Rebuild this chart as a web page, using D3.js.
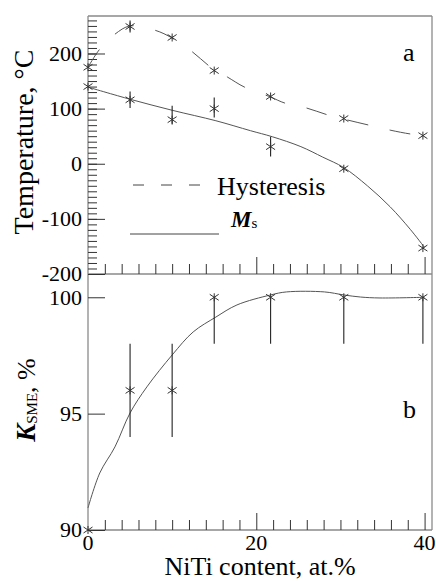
<!DOCTYPE html>
<html>
<head>
<meta charset="utf-8">
<script src="https://cdn.jsdelivr.net/npm/d3@7"></script>
</head>
<body style="margin:0">
<svg id="chart" width="436" height="581"></svg>
<script>
const SERIF = "'Liberation Serif'";

// NiTi content (at.%) of the measured samples
const content = [0, 5, 10, 15, 21.7, 30.4, 39.8];

// Panel a: temperatures, °C
const hysteresis = [175, 249, 229, 169, 122, 82, 51];
const hystLow = [null, 238, null, null, null, null, null];
const hystHigh = [null, 260, null, null, null, null, null];
const msTemp = [140, 116, 80, 100, 31, -9, -153];
const msLow = [null, 101, 71, 84, 13, null, null];
const msHigh = [null, 131, 105, 120, 49, null, null];

// Smoothed trend lines of panel a
const hystFitX = [0, 1.4, 3.2, 5, 8, 10, 12.4, 14.6, 16.6, 18.6, 21.7, 23.4, 26, 28.4, 30.4, 33.4, 35.9, 38.3, 40];
const hystFitY = [175, 208, 235, 250, 242, 228, 203, 175, 157, 139, 121, 110, 101, 89, 81, 70, 61, 54, 51];
const msFitX = [0, 5, 10, 15.2, 19.3, 21.9, 25.3, 27.9, 30.4, 33.2, 35.9, 38.3, 40];
const msFitY = [139, 117, 97, 78, 60, 49, 31, 12, -7, -40, -78, -119, -152];

// Panel b: shape memory effect coefficient, %
const kSme = [90, 96, 96, 100, 100, 100, 100];
const kLow = [null, 94, 94, 98, 98, 98, 98];
const kHigh = [null, 98, 98, 100, 100, 100, 100];
const kFitX = [0, 1.4, 3.2, 5, 7, 10, 12.5, 15.2, 17.7, 21.7, 23.6, 28.1, 30.4, 32.4, 34.7, 40];
const kFitY = [90.95, 92.45, 93.57, 95.03, 96.15, 97.52, 98.51, 99.15, 99.67, 100.1, 100.23, 100.23, 100.1, 100.01, 99.97, 100.0];

// Tick values
const tempTicks = [-200, -100, 0, 100, 200];
const tempMinorTicks = d3.range(-200, 261, 10);
const kTicks = [90, 95, 100];
const contentTicks = [0, 20, 40];
const contentMinorTicks = d3.range(2, 41, 2);

const L = 88, R = 432, TOP = 16, MID = 274, BOT = 530;
const svg = d3.select("#chart");

const x = d3.scaleLinear().domain([0, 41]).range([L, R + 1]);
const yT = d3.scaleLinear().domain([-200, 268]).range([MID, TOP]);
const yK = d3.scaleLinear().domain([90, 101]).range([BOT, MID]);

const frameColor = "#8a8a8a";
const tickColor = "#333";

// Text helper: serif face, size in px
function addText(size) {
  return svg.append("text")
    .style("font-family", SERIF)
    .attr("font-size", size);
}

// Frame
const frame = svg.append("g").attr("stroke", frameColor).attr("stroke-width", 1.3).attr("fill", "none");
frame.append("line").attr("x1", L).attr("x2", L).attr("y1", TOP).attr("y2", BOT);
frame.append("line").attr("x1", R).attr("x2", R).attr("y1", TOP).attr("y2", BOT);
frame.append("line").attr("x1", L).attr("x2", R).attr("y1", TOP).attr("y2", TOP);
frame.append("line").attr("x1", L).attr("x2", R).attr("y1", MID).attr("y2", MID);
frame.append("line").attr("x1", L).attr("x2", R).attr("y1", BOT).attr("y2", BOT);

// Ticks only; all numbers are written as plain text elements below
function styleAxis(g) {
  g.select(".domain").remove();
  g.selectAll(".tick text").remove();
  g.selectAll(".tick line").attr("stroke", tickColor).attr("stroke-width", 1);
}

// Panel a, left axis: minor and major inward ticks
svg.append("g").attr("transform", `translate(${L},0)`)
  .call(d3.axisLeft(yT).tickValues(tempMinorTicks).tickSize(-9))
  .call(styleAxis);
svg.append("g").attr("transform", `translate(${L},0)`)
  .call(d3.axisLeft(yT).tickValues(tempTicks).tickSize(-17))
  .call(styleAxis);
tempTicks.forEach(t => {
  addText(22).attr("x", L - 6).attr("y", yT(t)).attr("dy", "0.34em")
    .attr("text-anchor", "end").text(String(t));
});

// Panel b, left axis
svg.append("g").attr("transform", `translate(${L},0)`)
  .call(d3.axisLeft(yK).tickValues(kTicks).tickSize(-17))
  .call(styleAxis);
kTicks.forEach(t => {
  addText(22).attr("x", L - 6).attr("y", yK(t)).attr("dy", "0.34em")
    .attr("text-anchor", "end").text(String(t));
});

// x ticks pointing up from both horizontal axes
[MID, BOT].forEach(yPos => {
  svg.append("g").attr("transform", `translate(0,${yPos})`)
    .call(d3.axisBottom(x).tickValues(contentMinorTicks.filter(v => v % 20 !== 0)).tickSize(-10))
    .call(styleAxis);
  svg.append("g").attr("transform", `translate(0,${yPos})`)
    .call(d3.axisBottom(x).tickValues([20, 40]).tickSize(-17))
    .call(styleAxis);
});

// x tick labels
contentTicks.forEach(t => {
  addText(22).attr("x", x(t)).attr("y", BOT + 20)
    .attr("text-anchor", "middle").text(String(t));
});

const line = d3.line().curve(d3.curveCatmullRom.alpha(0.5));

// Panel a curves
svg.append("path")
  .attr("d", line(hystFitX.map((v, i) => [x(v), yT(hystFitY[i])])))
  .attr("fill", "none").attr("stroke", "#555").attr("stroke-width", 1)
  .attr("stroke-dasharray", "21,22");
svg.append("path")
  .attr("d", line(msFitX.map((v, i) => [x(v), yT(msFitY[i])])))
  .attr("fill", "none").attr("stroke", "#555").attr("stroke-width", 1);

// Panel b curve
svg.append("path")
  .attr("d", line(kFitX.map((v, i) => [x(v), yK(kFitY[i])])))
  .attr("fill", "none").attr("stroke", "#555").attr("stroke-width", 1);

const star = "M-4.5,-3L4.5,3M-4.5,3L4.5,-3M0,-4L0,4";

function drawSeries(vals, lo, hi, yScale) {
  const g = svg.append("g");
  content.forEach((c, i) => {
    if (lo[i] !== null) {
      g.append("line")
        .attr("x1", x(c)).attr("x2", x(c))
        .attr("y1", yScale(lo[i])).attr("y2", yScale(hi[i]))
        .attr("stroke", "#222").attr("stroke-width", 1.1);
    }
    g.append("path")
      .attr("d", star)
      .attr("transform", `translate(${x(c)},${yScale(vals[i])})`)
      .attr("fill", "none").attr("stroke", "#333").attr("stroke-width", 1);
  });
}
drawSeries(hysteresis, hystLow, hystHigh, yT);
drawSeries(msTemp, msLow, msHigh, yT);
drawSeries(kSme, kLow, kHigh, yK);

// Legend
svg.append("line").attr("x1", 133).attr("x2", 201).attr("y1", 185).attr("y2", 185)
  .attr("stroke", "#444").attr("stroke-width", 1).attr("stroke-dasharray", "11,17");
addText(26).attr("x", 217).attr("y", 195).text("Hysteresis");
svg.append("line").attr("x1", 130).attr("x2", 219).attr("y1", 234).attr("y2", 234)
  .attr("stroke", "#444").attr("stroke-width", 1);
const ms = addText(23).attr("x", 231).attr("y", 227);
ms.append("tspan").style("font-style", "italic").style("font-weight", "bold").text("M");
ms.append("tspan").attr("font-size", 15).attr("dy", 1).text("s");

// Panel letters
addText(26).attr("x", 403).attr("y", 61).text("a");
addText(26).attr("x", 403).attr("y", 418).text("b");

// Axis titles
addText(28)
  .attr("transform", "translate(33,142) rotate(-90)")
  .attr("text-anchor", "middle")
  .text("Temperature, °C");

const kt = addText(27)
  .attr("transform", "translate(35,400) rotate(-90)")
  .attr("text-anchor", "middle");
kt.append("tspan").style("font-style", "italic").style("font-weight", "bold").text("K");
kt.append("tspan").attr("font-size", 15).attr("dy", 2).text("SME");
kt.append("tspan").attr("font-size", 26).attr("dy", -2).text(", %");

addText(26)
  .attr("x", 260).attr("y", 575)
  .attr("text-anchor", "middle")
  .text("NiTi content, at.%");
</script>
</body>
</html>
